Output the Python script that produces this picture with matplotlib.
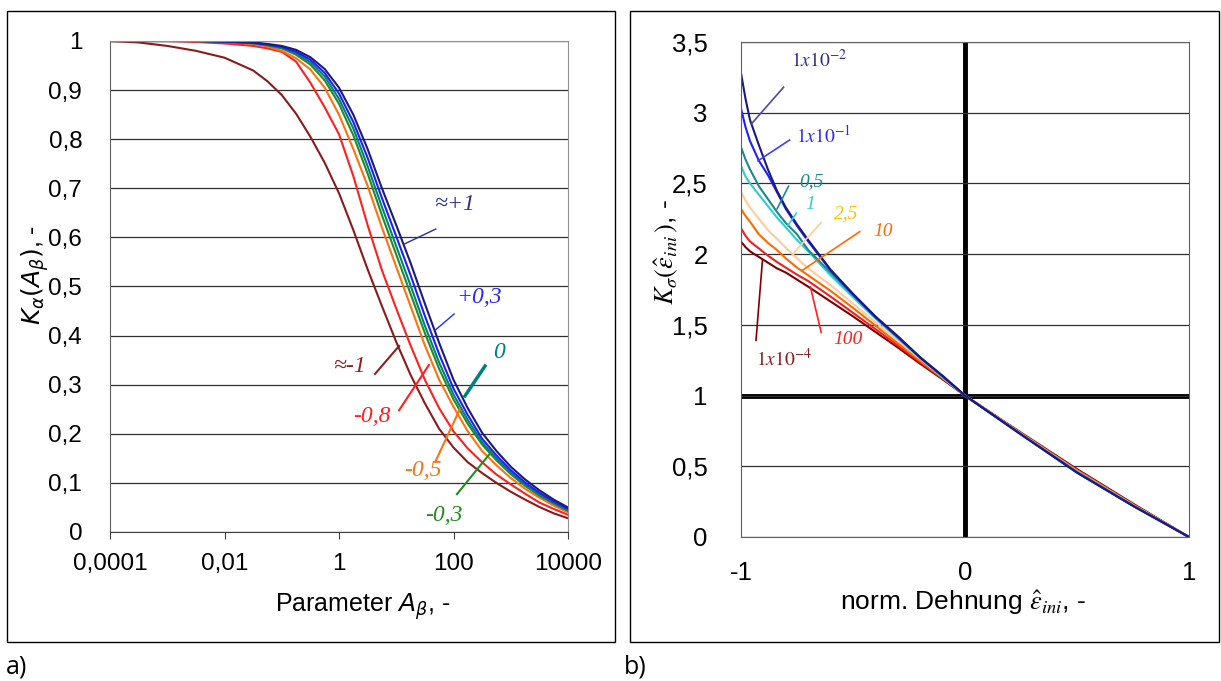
import matplotlib
matplotlib.use('Agg')
import matplotlib.pyplot as plt
from matplotlib.patches import Rectangle

W, H = 1221, 681

# ---- a) K_alpha over parameter A_beta (log10 of A_beta) ----
log_a = [-4, -3.5, -3, -2.5, -2, -1.5, -1.25, -1, -0.75, -0.5, -0.25, 0, 0.25, 0.5, 0.75,
         1, 1.25, 1.5, 1.75, 2, 2.25, 2.5, 2.75, 3, 3.25, 3.5, 3.75, 4]
k_p1 = [1, 1, 1, 1, 0.999, 0.997, 0.994, 0.99, 0.982, 0.967, 0.943, 0.905, 0.85, 0.78, 0.70,
        0.625, 0.548, 0.465, 0.385, 0.31, 0.252, 0.202, 0.165, 0.133, 0.107, 0.085, 0.066, 0.05]
k_p03 = [1, 1, 1, 1, 0.999, 0.996, 0.993, 0.988, 0.978, 0.962, 0.935, 0.893, 0.835, 0.762, 0.68,
         0.602, 0.523, 0.44, 0.362, 0.292, 0.238, 0.19, 0.156, 0.126, 0.101, 0.08, 0.062, 0.047]
k_0 = [1, 1, 1, 1, 0.999, 0.996, 0.992, 0.987, 0.975, 0.957, 0.928, 0.882, 0.822, 0.745, 0.662,
       0.582, 0.502, 0.42, 0.345, 0.28, 0.228, 0.183, 0.15, 0.121, 0.097, 0.077, 0.06, 0.045]
k_m03 = [1, 1, 1, 1, 0.998, 0.995, 0.991, 0.985, 0.972, 0.952, 0.92, 0.872, 0.808, 0.73, 0.645,
         0.565, 0.485, 0.405, 0.332, 0.27, 0.22, 0.178, 0.146, 0.118, 0.094, 0.074, 0.058, 0.043]
k_m05 = [1, 1, 1, 1, 0.998, 0.994, 0.989, 0.98, 0.965, 0.942, 0.905, 0.85, 0.78, 0.705, 0.62,
         0.54, 0.46, 0.38, 0.31, 0.255, 0.205, 0.165, 0.136, 0.11, 0.088, 0.07, 0.054, 0.04]
k_m08 = [1, 1, 1, 0.998, 0.995, 0.99, 0.985, 0.978, 0.958, 0.915, 0.865, 0.81, 0.725, 0.625, 0.533,
         0.455, 0.38, 0.31, 0.252, 0.205, 0.17, 0.142, 0.117, 0.097, 0.078, 0.06, 0.047, 0.035]
k_m1 = [1, 0.997, 0.99, 0.98, 0.966, 0.94, 0.918, 0.89, 0.852, 0.805, 0.752, 0.69, 0.615, 0.535, 0.46,
        0.387, 0.32, 0.262, 0.21, 0.172, 0.142, 0.12, 0.1, 0.082, 0.066, 0.051, 0.038, 0.028]
curves_a = [
    (k_m1, '#8b1a1a'), (k_m08, '#ff2020'), (k_m05, '#ff7010'), (k_m03, '#228b22'),
    (k_0, '#008080'), (k_p03, '#1e1eff'), (k_p1, '#1a1a80'),
]
# label text, colour, text pos (log A, K), leader line (log A, K) x2, line width
labels_a = [
    ('≈+1', '#2e2e8c', (2.03, 0.668), (1.69, 0.617), (1.15, 0.587), 1.0),
    ('+0,3', '#2828ff', (2.45, 0.477), (2.01, 0.444), (1.68, 0.411), 1.0),
    ('0', '#008080', (2.80, 0.365), (2.55, 0.338), (2.20, 0.277), 2.5),
    ('≈-1', '#8b2020', (0.19, 0.338), (0.63, 0.322), (1.05, 0.379), 1.5),
    ('-0,8', '#ff2020', (0.58, 0.236), (1.05, 0.248), (1.57, 0.340), 1.5),
    ('-0,5', '#ff7010', (1.47, 0.126), (1.69, 0.145), (2.11, 0.250), 1.5),
    ('-0,3', '#228b22', (1.83, 0.033), (2.06, 0.077), (2.66, 0.163), 1.5),
]
xticks_a = [-4, -2, 0, 2, 4]
xticklabels_a = ['0,0001', '0,01', '1', '100', '10000']
yticks_a = [0, 0.1, 0.2, 0.3, 0.4, 0.5, 0.6, 0.7, 0.8, 0.9, 1]

# ---- b) K_sigma over normalised strain ----
eps = [-1, -0.98, -0.96, -0.92, -0.88, -0.84, -0.8, -0.75, -0.7, -0.6, -0.5, -0.4, -0.3, -0.2, -0.1,
       0, 0.25, 0.5, 0.75, 1]
ks_1e2 = [3.28, 3.10, 2.95, 2.77, 2.60, 2.45, 2.33, 2.21, 2.10, 1.89, 1.72, 1.56, 1.42, 1.27, 1.14,
          1, 0.725, 0.455, 0.22, 0]
ks_1e1 = [3.03, 2.90, 2.80, 2.66, 2.56, 2.44, 2.32, 2.20, 2.09, 1.885, 1.715, 1.555, 1.415, 1.268, 1.138,
          1, 0.725, 0.455, 0.22, 0]
ks_05 = [2.756, 2.67, 2.60, 2.48, 2.39, 2.30, 2.22, 2.14, 2.03, 1.87, 1.71, 1.555, 1.41, 1.27, 1.135,
         1, 0.727, 0.46, 0.222, 0]
ks_1 = [2.624, 2.55, 2.50, 2.42, 2.34, 2.26, 2.19, 2.10, 2.02, 1.85, 1.695, 1.545, 1.405, 1.265, 1.13,
        1, 0.728, 0.462, 0.224, 0]
ks_25 = [2.44, 2.38, 2.33, 2.25, 2.17, 2.11, 2.045, 1.97, 1.90, 1.78, 1.65, 1.52, 1.39, 1.26, 1.13,
         1, 0.73, 0.465, 0.226, 0]
ks_10 = [2.32, 2.27, 2.23, 2.14, 2.08, 2.03, 1.97, 1.905, 1.85, 1.74, 1.62, 1.495, 1.37, 1.245, 1.125,
         1, 0.733, 0.47, 0.228, 0]
ks_100 = [2.183, 2.13, 2.09, 2.04, 1.99, 1.945, 1.905, 1.855, 1.81, 1.70, 1.585, 1.47, 1.355, 1.235, 1.12,
          1, 0.735, 0.475, 0.232, 0]
ks_1e4 = [2.088, 2.05, 2.02, 1.98, 1.94, 1.90, 1.87, 1.82, 1.77, 1.665, 1.56, 1.45, 1.34, 1.225, 1.115,
          1, 0.738, 0.48, 0.236, 0]
curves_b = [
    (ks_1e4, '#800000'), (ks_100, '#f02020'), (ks_10, '#ff6a00'), (ks_25, '#ffcc99'),
    (ks_1, '#33cccc'), (ks_05, '#1a8a8a'), (ks_1e1, '#1e1eff'), (ks_1e2, '#1a1a80'),
]
# label text, text colour, line colour, text pos, leader line end points
labels_b = [
    (r'$\mathit{1x10^{-2}}$', '#2e2e8c', '#4a4aa0', (-0.65, 3.373), (-0.81, 3.18), (-0.954, 2.92)),
    (r'$\mathit{1x10^{-1}}$', '#2828ff', '#4040ff', (-0.633, 2.838), (-0.783, 2.807), (-0.924, 2.66)),
    ('0,5', '#1a8a8a', '#1a8a8a', (-0.685, 2.513), (-0.788, 2.48), (-0.839, 2.32)),
    ('1', '#33cccc', '#33cccc', (-0.69, 2.353), (-0.753, 2.29), (-0.792, 2.20)),
    ('2,5', '#ffc000', '#ffcc99', (-0.531, 2.285), (-0.642, 2.223), (-0.762, 2.014)),
    ('10', '#ff6a00', '#ff6a00', (-0.368, 2.159), (-0.47, 2.159), (-0.727, 1.885)),
    ('100', '#ff2020', '#ff2020', (-0.522, 1.40), (-0.642, 1.446), (-0.69, 1.768)),
    (r'$\mathit{1x10^{-4}}$', '#8b1a1a', '#800000', (-0.806, 1.261), (-0.933, 1.39), (-0.904, 1.96)),
]
xticks_b = [-1, 0, 1]
xticklabels_b = ['-1', '0', '1']
yticks_b = [0, 0.5, 1, 1.5, 2, 2.5, 3, 3.5]
yticklabels_b = ['0', '0,5', '1', '1,5', '2', '2,5', '3', '3,5']

plt.rcParams['font.family'] = ['Liberation Sans', 'DejaVu Sans']
serif = ['Liberation Serif', 'DejaVu Serif']

fig = plt.figure(figsize=(W / 100, H / 100), dpi=100)


def fx(px):
    return px / W


def fy(py):
    return 1 - py / H


# panel frames
for x0, x1 in [(7, 615), (630, 1219)]:
    fig.patches.append(Rectangle((fx(x0), fy(642)), fx(x1 - x0), (642 - 11) / H,
                                 transform=fig.transFigure, fill=False, ec='black', lw=1.0))

# ---------------- panel a ----------------
ax1 = fig.add_axes([fx(110), fy(532), fx(458), 491 / H])
for vals, col in curves_a:
    ax1.plot([10 ** v for v in log_a], vals, color=col, lw=1.5)
ax1.set_xscale('log')
ax1.set_xlim(1e-4, 1e4)
ax1.set_ylim(0, 1)
ax1.set_xticks([10.0 ** t for t in xticks_a])
ax1.set_xticklabels(xticklabels_a)
ax1.xaxis.set_minor_locator(matplotlib.ticker.NullLocator())
ax1.set_yticks(yticks_a)
ax1.set_yticklabels([('%g' % t).replace('.', ',') for t in yticks_a])
ax1.tick_params(axis='x', labelsize=17.5, length=5, pad=10, color='#404040')
ax1.tick_params(axis='y', labelsize=17.5, length=0, pad=20)
ax1.grid(axis='y', color='#303030', lw=0.9)
for s in ['top', 'right']:
    ax1.spines[s].set_color('#909090')
ax1.spines['left'].set_color('#606060')
ax1.spines['bottom'].set_color('#404040')
for txt, col, tpos, p1, p2, lw in labels_a:
    ax1.plot([10 ** p1[0], 10 ** p2[0]], [p1[1], p2[1]], color=col, lw=lw)
    ax1.text(10 ** tpos[0], tpos[1], txt, color=col, fontsize=17, style='italic',
             family=serif, ha='center', va='center')

fig.text(fx(35), fy(275), r'$K_{\alpha}(A_{\beta})$, -', rotation=90, fontsize=18,
         ha='center', va='center')
fig.text(fx(363), fy(607), r'Parameter $A_{\beta}$, -', fontsize=18, ha='center', va='center')

# ---------------- panel b ----------------
ax2 = fig.add_axes([fx(741), fy(537), fx(448), 495 / H])
for vals, col in curves_b:
    ax2.plot(eps, vals, color=col, lw=1.5)
ax2.axvline(0, color='black', lw=3.5, zorder=1)
ax2.axhline(1, color='black', lw=3.5, zorder=1)
ax2.set_xlim(-1, 1)
ax2.set_ylim(0, 3.5)
ax2.set_xticks(xticks_b)
ax2.set_xticklabels(xticklabels_b)
ax2.set_yticks(yticks_b)
ax2.set_yticklabels(yticklabels_b)
ax2.tick_params(axis='x', labelsize=18.5, length=0, pad=17)
ax2.tick_params(axis='y', labelsize=18.5, length=0, pad=24)
ax2.grid(axis='y', color='#303030', lw=0.9)
for s in ['top', 'right', 'left', 'bottom']:
    ax2.spines[s].set_color('#606060')
for txt, tcol, lcol, tpos, p1, p2 in labels_b:
    ax2.plot([p1[0], p2[0]], [p1[1], p2[1]], color=lcol, lw=1.2)
    ax2.text(tpos[0], tpos[1], txt, color=tcol, fontsize=14, style='italic', family=serif,
             math_fontfamily='stix', ha='center', va='center')

fig.text(fx(667), fy(252), r'$K_{\sigma}(\hat{\varepsilon}_{ini}\,)$, -', rotation=90,
         fontsize=19, ha='center', va='center', math_fontfamily='stix')
fig.text(fx(963), fy(603), r'norm. Dehnung $\hat{\varepsilon}_{ini}$, -', fontsize=19,
         ha='center', va='center', math_fontfamily='stix')

fig.text(fx(6), fy(667), 'a)', fontsize=18, family=['Open Sans', 'DejaVu Sans'], va='center')
fig.text(fx(624), fy(667), 'b)', fontsize=18, family=['Open Sans', 'DejaVu Sans'], va='center')

fig.savefig('out.png', dpi=100)
